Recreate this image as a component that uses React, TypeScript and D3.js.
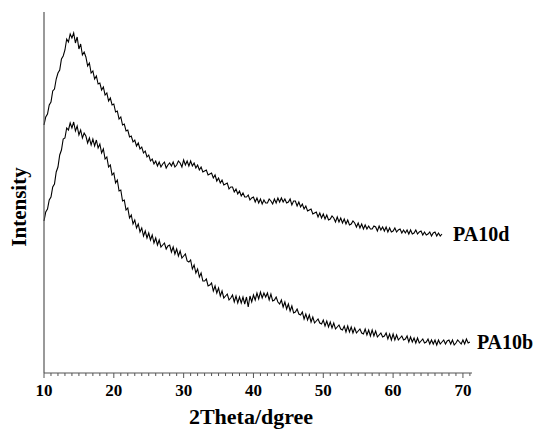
import React from "react";
import { scaleLinear, line, range } from "d3";

// sampling grid of the scans (degrees 2theta)
const scanStart = 10;
const scanStep = 0.25;

// PA10d intensity (arb. units), 10 .. 67 deg, one row per degree
const pa10d = [
  248, 256, 259, 268, // 10
  271, 282, 284, 294,
  300, 303, 314, 317,
  323, 334, 331, 339,
  335, 340, 330, 336,
  324, 329, 318, 321, // 15
  316, 307, 310, 300,
  302, 294, 297, 289,
  290, 283, 286, 278,
  280, 272, 275, 268,
  269, 261, 262, 254, // 20
  256, 248, 249, 242,
  243, 236, 237, 231,
  233, 227, 230, 224,
  226, 220, 222, 216,
  218, 212, 214, 209, // 25
  212, 207, 211, 206,
  209, 211, 205, 208,
  210, 207, 211, 206,
  208, 212, 210, 206,
  213, 208, 212, 207, // 30
  212, 207, 210, 205,
  208, 203, 206, 201,
  202, 203, 198, 199,
  200, 195, 198, 192,
  195, 190, 193, 188, // 35
  189, 190, 184, 186,
  186, 181, 184, 179,
  182, 177, 180, 176,
  176, 178, 173, 175,
  176, 171, 175, 170, // 40
  174, 169, 173, 170,
  170, 174, 172, 169,
  174, 170, 175, 171,
  175, 171, 174, 170,
  171, 174, 168, 172, // 45
  172, 167, 171, 166,
  169, 164, 167, 162,
  163, 164, 159, 160,
  161, 156, 160, 155,
  159, 154, 158, 153, // 50
  154, 157, 155, 151,
  156, 151, 155, 150,
  154, 149, 153, 148,
  149, 152, 150, 146,
  150, 145, 149, 144, // 55
  148, 144, 147, 144,
  144, 147, 146, 142,
  147, 143, 146, 142,
  146, 141, 145, 141,
  142, 145, 141, 143, // 60
  144, 140, 143, 140,
  143, 139, 143, 139,
  140, 143, 139, 141,
  142, 138, 141, 138,
  139, 141, 137, 140, // 65
  141, 137, 140, 137,
  139,
];

// PA10b intensity (arb. units), 10 .. 71 deg, one row per degree
const pa10b = [
  152, 161, 164, 173, // 10
  176, 186, 189, 201,
  206, 218, 223, 234,
  235, 245, 243, 250,
  245, 251, 242, 247,
  238, 243, 235, 240, // 15
  237, 230, 235, 228,
  234, 227, 233, 225,
  229, 220, 224, 214,
  216, 206, 208, 198,
  200, 190, 193, 182, // 20
  183, 172, 173, 163,
  165, 155, 158, 149,
  153, 145, 149, 141,
  145, 137, 142, 135,
  140, 133, 138, 130, // 25
  135, 128, 133, 126,
  128, 130, 124, 127,
  128, 121, 126, 119,
  124, 117, 122, 115,
  117, 119, 112, 111, // 30
  113, 104, 108, 100,
  104, 96, 100, 92,
  92, 94, 87, 88,
  90, 82, 87, 80,
  85, 77, 82, 75, // 35
  77, 79, 73, 75,
  78, 71, 77, 70,
  76, 70, 76, 69,
  76, 66, 77, 71,
  78, 73, 80, 74, // 40
  81, 75, 80, 76,
  80, 73, 79, 72,
  73, 76, 71, 69,
  73, 66, 71, 64,
  69, 62, 67, 60, // 45
  61, 64, 59, 58,
  61, 54, 59, 53,
  58, 51, 56, 50,
  52, 54, 50, 49,
  53, 47, 52, 46, // 50
  51, 45, 50, 44,
  46, 48, 44, 43,
  47, 41, 47, 41,
  46, 40, 45, 40,
  42, 44, 40, 39, // 55
  44, 38, 43, 37,
  43, 37, 42, 36,
  38, 40, 36, 37,
  40, 34, 39, 33,
  39, 33, 38, 33, // 60
  35, 37, 33, 34,
  37, 31, 36, 31,
  35, 30, 35, 30,
  32, 34, 30, 31,
  34, 29, 33, 29, // 65
  33, 28, 33, 29,
  31, 33, 29, 32,
  33, 29, 33, 28,
  30, 33, 31, 29,
  33, 29, 34, 30, // 70
  31,
];

const seriesNames = ["PA10d", "PA10b"];
const majorTicks = [10, 20, 30, 40, 50, 60, 70];

const W = 541;
const H = 429;
const fontStyle = {
  fontFamily: '"Liberation Serif", "Times New Roman", serif',
  fontWeight: 700,
};

export default function App() {
  const x = scaleLinear().domain([10, 71.3]).range([44, 472]);
  const y = scaleLinear().domain([0, 361]).range([373, 12]);

  const path = line<number>()
    .x((_, i) => x(scanStart + i * scanStep))
    .y((d) => y(d));

  const series = [pa10d, pa10b];
  const minorTicks = range(10, 72, 1).filter((t) => t % 10 !== 0);

  return (
    <svg
      width={W}
      height={H}
      style={{ position: "absolute", left: 0, top: 0, background: "#fff" }}
    >
      {series.map((s, k) => {
        const lastX = scanStart + (s.length - 1) * scanStep;
        const lastY = s[s.length - 1];
        return (
          <g key={seriesNames[k]}>
            <path d={path(s) || ""} fill="none" stroke="#000" strokeWidth={1.1} />
            <text
              x={x(lastX) + (k === 0 ? 11 : 7)}
              y={y(lastY) + 7}
              style={{ ...fontStyle, fontSize: 20 }}
            >
              {seriesNames[k]}
            </text>
          </g>
        );
      })}

      {/* axes */}
      <line x1={x(10)} x2={x(10)} y1={y(361)} y2={y(0)} stroke="#555" strokeWidth={1.2} />
      <line x1={x(10)} x2={x(71.3)} y1={y(0)} y2={y(0)} stroke="#555" strokeWidth={1.2} />
      {minorTicks.map((t) => (
        <line key={"m" + t} x1={x(t)} x2={x(t)} y1={y(0)} y2={y(0) + 3} stroke="#555" />
      ))}
      {majorTicks.map((t) => (
        <g key={t}>
          <line x1={x(t)} x2={x(t)} y1={y(0)} y2={y(0) + 5} stroke="#555" />
          <text x={x(t)} y={396} textAnchor="middle" style={{ ...fontStyle, fontSize: 17 }}>
            {t}
          </text>
        </g>
      ))}

      <text x={251} y={424} textAnchor="middle" style={{ ...fontStyle, fontSize: 22 }}>
        2Theta/dgree
      </text>
      <text
        transform="translate(26,207) rotate(-90)"
        textAnchor="middle"
        style={{ ...fontStyle, fontSize: 21 }}
      >
        Intensity
      </text>
    </svg>
  );
}
